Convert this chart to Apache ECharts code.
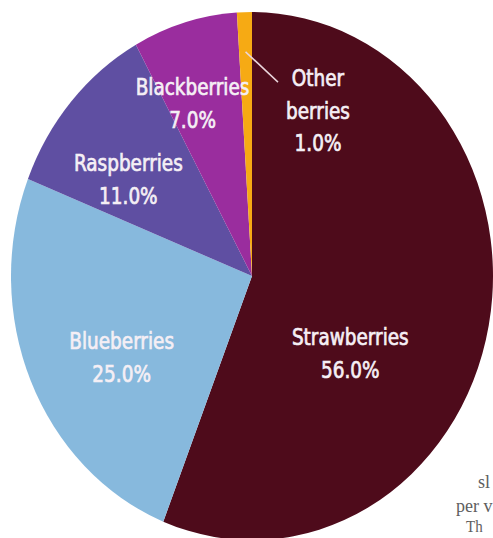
<!DOCTYPE html>
<html><head><meta charset="utf-8">
<script src="https://cdn.jsdelivr.net/npm/echarts@6/dist/echarts.min.js"></script>
<style>
html,body{margin:0;padding:0;background:#fff;overflow:hidden;width:493px;height:538px}
#wrap{width:493px;height:538px;overflow:hidden;position:relative}
#chart{width:493px;height:491px;transform:scaleY(1.09572);transform-origin:0 0}
</style></head><body><div id="wrap"><div id="chart"></div></div>
<script>
// ---- data ----
const categories = ['Strawberries', 'Blueberries', 'Raspberries', 'Blackberries', 'Other berries'];
const shares = [56.0, 25.0, 11.0, 7.0, 1.0];
const labelNames = ['Strawberries', 'Blueberries', 'Raspberries', 'Blackberries', 'Other\nberries'];
const fragments = ['sl', 'per v', 'Th'];

// ---- layout / style ----
const colors = ['#4e0b1b', '#87b9dd', '#5f4fa2', '#9a2d9e', '#f6aa14'];
const CX = 252, CY = 252, R = 241;
const labelOffsets = [[-23, 48], [-17, 25], [-31, -6], [-25, -39], [0, 0]];
const otherLabelPos = [318, 101];
const otherLineEnd = [278, 75];
const fragPos = [[478, 430, 18], [456, 452, 18], [466, 473, 15]];

const total = shares.reduce((a, b) => a + b, 0);
const OTHER = categories.length - 1;

const chart = echarts.init(document.getElementById('chart'), null, { renderer: 'svg' });

const data = categories.map((name, i) => {
  const item = {
    name: name,
    value: shares[i],
    itemStyle: { color: colors[i] },
    label: { offset: labelOffsets[i] }
  };
  return item;
});

// leader line for the small slice, from inside the slice (at its mid angle) to its label
const before = shares.slice(0, OTHER).reduce((a, b) => a + b, 0);
const mid = (before + shares[OTHER] / 2) / total * Math.PI * 2;
const lsx = CX + 0.85 * R * Math.sin(mid);
const lsy = CY - 0.85 * R * Math.cos(mid);

const textStyle = {
  color: '#f5eff5',
  fontFamily: '"DejaVu Sans Condensed", "DejaVu Sans", sans-serif',
  fontSize: 20.5,
  lineHeight: 30,
  textBorderColor: '#f5eff5',
  textBorderWidth: 0.6
};

const option = {
  backgroundColor: '#ffffff',
  animation: false,
  series: [{
    type: 'pie',
    center: [CX, CY],
    radius: R,
    startAngle: 90,
    clockwise: true,
    avoidLabelOverlap: false,
    silent: true,
    itemStyle: { borderWidth: 0 },
    label: Object.assign({
      show: true,
      position: 'inside',
      align: 'center',
      formatter: p => labelNames[p.dataIndex] + '\n' + shares[p.dataIndex].toFixed(1) + '%'
    }, textStyle),
    labelLine: { show: false },
    labelLayout: function (p) {
      if (p.dataIndex !== OTHER) return {};
      return { x: otherLabelPos[0], y: otherLabelPos[1], align: 'center', verticalAlign: 'middle' };
    },
    data: data
  }],
  graphic: [{
    type: 'line',
    silent: true,
    z: 100,
    shape: { x1: lsx, y1: lsy, x2: otherLineEnd[0], y2: otherLineEnd[1] },
    style: { stroke: '#ead6dc', lineWidth: 1.5 }
  }].concat(fragments.map((t, i) => ({
    type: 'text',
    left: fragPos[i][0],
    top: fragPos[i][1],
    silent: true,
    style: { text: t, fill: '#5e5e5e', font: fragPos[i][2] + 'px "Liberation Serif", serif' }
  })))
};
chart.setOption(option);
</script></body></html>
